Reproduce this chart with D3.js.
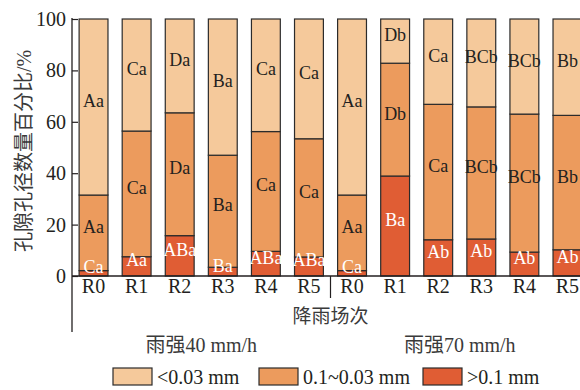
<!DOCTYPE html>
<html>
<head>
<meta charset="utf-8">
<script src="https://cdn.jsdelivr.net/npm/d3@7"></script>
<style>
  body { margin: 0; background: #fff; }
  svg { display: block; font-family: "Liberation Serif", "Noto Sans CJK SC", serif; }
</style>
</head>
<body>
<div id="chart"></div>
<script>
// runs R0..R5 under 40 mm/h, then R0..R5 under 70 mm/h
const runs = ["R0", "R1", "R2", "R3", "R4", "R5", "R0", "R1", "R2", "R3", "R4", "R5"];
const groups = ["雨强40 mm/h", "雨强70 mm/h"];
const sizeClasses = ["<0.03 mm", "0.1~0.03 mm", ">0.1 mm"];

// percentages per size class
const large = [2.1, 7.5, 15.7, 3.4, 9.6, 7.4, 2.1, 38.9, 14.1, 14.4, 9.3, 10.2];
const medium = [29.4, 48.9, 47.8, 43.6, 46.6, 46.0, 29.4, 43.9, 52.7, 51.4, 53.7, 52.3];
const small = [68.5, 43.6, 36.5, 53.0, 43.8, 46.6, 68.5, 17.2, 33.2, 34.2, 37.0, 37.5];

// significance letters
const largeLabels = ["Ca", "Aa", "ABa", "Ba", "ABa", "ABa", "Ca", "Ba", "Ab", "Ab", "Ab", "Ab"];
const mediumLabels = ["Aa", "Ca", "Da", "Ba", "Ca", "Ca", "Aa", "Db", "Ca", "BCb", "BCb", "Bb"];
const smallLabels = ["Aa", "Ca", "Da", "Ba", "Ca", "Ca", "Aa", "Db", "Ca", "BCb", "BCb", "Bb"];

const yTicks = [0, 20, 40, 60, 80, 100];

const width = 580, height = 390;
const colors = { small: "#f5c99b", medium: "#ec9b5d", large: "#e05d34" };
const ink = "#231f20";

const svg = d3.select("#chart").append("svg")
    .attr("width", width)
    .attr("height", height);

const x = d3.scaleBand()
    .domain(d3.range(runs.length))
    .range([72, 589])
    .paddingInner(0.33)
    .paddingOuter(0.165);

const y = d3.scaleLinear().domain([0, 100]).range([276, 19]);

// stack: large at bottom, then medium, then small
const rows = runs.map((r, i) => ({ i, large: large[i], medium: medium[i], small: small[i] }));
const keys = ["large", "medium", "small"];
const labelSets = { large: largeLabels, medium: mediumLabels, small: smallLabels };
const stacked = d3.stack().keys(keys)(rows);

const layer = svg.append("g")
    .selectAll("g")
    .data(stacked)
    .join("g")
    .attr("fill", d => colors[d.key]);

layer.selectAll("rect")
    .data(d => d)
    .join("rect")
    .attr("x", d => x(d.data.i))
    .attr("width", x.bandwidth())
    .attr("y", d => y(d[1]))
    .attr("height", d => y(d[0]) - y(d[1]))
    .attr("stroke", "#2b2b2b")
    .attr("stroke-width", 1.2);

// letters, baseline at segment middle
stacked.forEach(s => {
    svg.append("g")
        .selectAll("text")
        .data(s)
        .join("text")
        .attr("x", d => x(d.data.i) + x.bandwidth() / 2)
        .attr("y", d => y((d[0] + d[1]) / 2))
        .attr("text-anchor", "middle")
        .attr("font-size", 18)
        .attr("fill", s.key === "large" ? "#fff" : ink)
        .text((d, j) => labelSets[s.key][j]);
});

// y axis
const yAxis = svg.append("g")
    .attr("transform", "translate(72,0)")
    .call(d3.axisLeft(y).tickValues(yTicks).tickSize(-6).tickPadding(6));
yAxis.select(".domain").remove();
yAxis.selectAll("line").attr("stroke", ink).attr("stroke-width", 1.2);
yAxis.selectAll("text")
    .attr("font-size", 20)
    .attr("font-family", "Liberation Serif")
    .attr("fill", ink);

svg.append("line")
    .attr("x1", 72).attr("x2", 72)
    .attr("y1", 18).attr("y2", 332)
    .attr("stroke", ink).attr("stroke-width", 1.3);

// x axis
svg.append("line")
    .attr("x1", 72).attr("x2", width)
    .attr("y1", 276).attr("y2", 276)
    .attr("stroke", ink).attr("stroke-width", 1.3);

const sepX = (x(5) + x.bandwidth() + x(6)) / 2;
svg.append("line")
    .attr("x1", sepX).attr("x2", sepX)
    .attr("y1", 276).attr("y2", 298)
    .attr("stroke", ink).attr("stroke-width", 1.2);

svg.append("g")
    .selectAll("text")
    .data(runs)
    .join("text")
    .attr("x", (d, i) => x(i) + x.bandwidth() / 2)
    .attr("y", 293)
    .attr("text-anchor", "middle")
    .attr("font-size", 20)
    .attr("fill", ink)
    .text(d => d);

svg.append("text")
    .attr("x", sepX)
    .attr("y", 323)
    .attr("text-anchor", "middle")
    .attr("font-size", 19)
    .attr("fill", "#3a3a3a")
    .text("降雨场次");

// group captions centred under each group
svg.append("g")
    .selectAll("text")
    .data(groups)
    .join("text")
    .attr("x", (d, g) => (x(g * 6) + x(g * 6 + 5) + x.bandwidth()) / 2)
    .attr("y", 352)
    .attr("text-anchor", "middle")
    .attr("font-size", 20)
    .attr("fill", "#3a3a3a")
    .text(d => d);

// y label
svg.append("text")
    .attr("transform", "translate(31,151) rotate(-90)")
    .attr("text-anchor", "middle")
    .attr("font-size", 20)
    .attr("fill", "#3a3a3a")
    .text("孔隙孔径数量百分比/%");

// legend
const legendX = [113, 259, 423];
const legendKeys = ["small", "medium", "large"];
const legend = svg.append("g")
    .selectAll("g")
    .data(sizeClasses)
    .join("g")
    .attr("transform", (d, i) => `translate(${legendX[i]},368)`);

legend.append("rect")
    .attr("width", 39)
    .attr("height", 17)
    .attr("fill", (d, i) => colors[legendKeys[i]])
    .attr("stroke", "#2b2b2b")
    .attr("stroke-width", 1.2);

legend.append("text")
    .attr("x", 44)
    .attr("y", 16)
    .attr("font-size", 20)
    .attr("fill", ink)
    .text(d => d);
</script>
</body>
</html>
